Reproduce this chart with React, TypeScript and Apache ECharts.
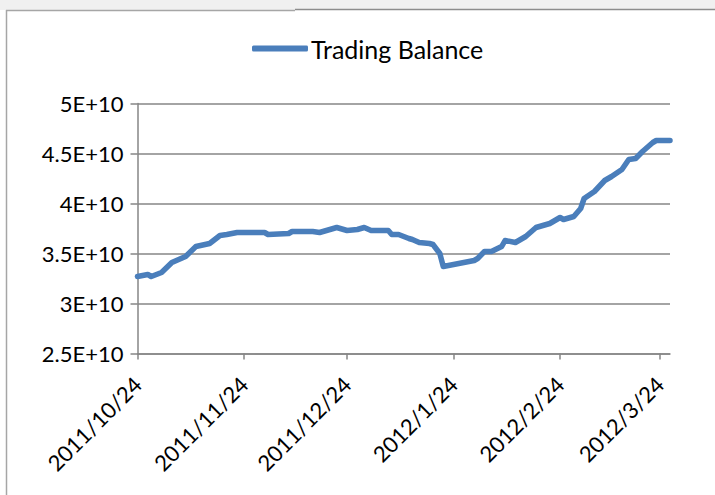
import React, { useEffect, useRef } from "react";
import * as echarts from "echarts";

const seriesName = "Trading Balance";

const dates = [
  "2011-10-24", "2011-10-27", "2011-10-28", "2011-10-31", "2011-11-03", "2011-11-07",
  "2011-11-10", "2011-11-14", "2011-11-17", "2011-11-19", "2011-11-22", "2011-11-24",
  "2011-11-30", "2011-12-01", "2011-12-07", "2011-12-08", "2011-12-14", "2011-12-16",
  "2011-12-21", "2011-12-24", "2011-12-27", "2011-12-29", "2011-12-31", "2012-01-05",
  "2012-01-06", "2012-01-08", "2012-01-11", "2012-01-12", "2012-01-14", "2012-01-17",
  "2012-01-18", "2012-01-20", "2012-01-21", "2012-01-30", "2012-01-31", "2012-02-02",
  "2012-02-04", "2012-02-07", "2012-02-08", "2012-02-11", "2012-02-14", "2012-02-17",
  "2012-02-21", "2012-02-24", "2012-02-25", "2012-02-28", "2012-03-01", "2012-03-02",
  "2012-03-05", "2012-03-08", "2012-03-10", "2012-03-13", "2012-03-15", "2012-03-17",
  "2012-03-19", "2012-03-22", "2012-03-23", "2012-03-27",
];

const balances = [
  3.27e10, 3.29e10, 3.27e10, 3.31e10, 3.41e10, 3.47e10,
  3.57e10, 3.6e10, 3.68e10, 3.69e10, 3.71e10, 3.71e10,
  3.71e10, 3.69e10, 3.7e10, 3.72e10, 3.72e10, 3.71e10,
  3.76e10, 3.73e10, 3.74e10, 3.76e10, 3.73e10, 3.73e10,
  3.69e10, 3.69e10, 3.65e10, 3.64e10, 3.61e10, 3.6e10,
  3.59e10, 3.5e10, 3.37e10, 3.43e10, 3.45e10, 3.52e10,
  3.52e10, 3.57e10, 3.63e10, 3.61e10, 3.67e10, 3.76e10,
  3.8e10, 3.86e10, 3.84e10, 3.87e10, 3.95e10, 4.05e10,
  4.12e10, 4.23e10, 4.27e10, 4.34e10, 4.44e10, 4.45e10,
  4.52e10, 4.61e10, 4.63e10, 4.63e10,
];

const xTickDates = ["2011-10-24", "2011-11-24", "2011-12-24", "2012-01-24", "2012-02-24", "2012-03-24"];
const xTickLabels = ["2011/10/24", "2011/11/24", "2011/12/24", "2012/1/24", "2012/2/24", "2012/3/24"];

const yTickValues = [2.5e10, 3e10, 3.5e10, 4e10, 4.5e10, 5e10];
const yTickLabels = ["2.5E+10", "3E+10", "3.5E+10", "4E+10", "4.5E+10", "5E+10"];

const toTime = (s: string) => {
  const [y, m, d] = s.split("-").map(Number);
  return Date.UTC(y, m - 1, d);
};

const FONT = "Lato";
const LINE_COLOR = "#4a7ebb";

export default function App() {
  const ref = useRef<HTMLDivElement>(null);
  useEffect(() => {
    document.body.style.margin = "0";
    const chart = echarts.init(ref.current!, undefined, { renderer: "svg" });
    const tickTimes = xTickDates.map(toTime);
    chart.setOption({
      animation: false,
      backgroundColor: "#ffffff",
      graphic: [
        { type: "rect", shape: { x: 0, y: 0, width: 715, height: 10 }, style: { fill: "#f0f0f0" }, silent: true },
        { type: "line", shape: { x1: 6, y1: 10.5, x2: 295, y2: 10.5 }, style: { stroke: "#a6a6a6", lineWidth: 1.5 }, silent: true },
        { type: "line", shape: { x1: 295, y1: 9.5, x2: 715, y2: 9.5 }, style: { stroke: "#8c8c8c", lineWidth: 1.5 }, silent: true },
        { type: "line", shape: { x1: 6.5, y1: 10, x2: 6.5, y2: 495 }, style: { stroke: "#a6a6a6", lineWidth: 1.5 }, silent: true },
      ],
      legend: {
        left: 247,
        top: 31,
        icon: "roundRect",
        itemWidth: 56,
        itemHeight: 6,
        itemStyle: { color: LINE_COLOR },
        textStyle: { fontFamily: FONT, fontSize: 25, color: "#000", padding: [0, 0, 0, -2] },
        data: [seriesName],
      },
      grid: { left: 137.5, right: 45, top: 103.5, bottom: 141.5, containLabel: false },
      xAxis: {
        type: "value",
        min: toTime(dates[0]),
        max: toTime(dates[dates.length - 1]),
        splitLine: { show: false },
        axisLine: { lineStyle: { color: "#868686", width: 1.5 } },
        axisTick: {
          show: true,
          length: 6,
          lineStyle: { color: "#868686", width: 1.5 },
          customValues: tickTimes,
        },
        axisLabel: {
          rotate: 45,
          margin: 27,
          fontFamily: FONT,
          fontSize: 22,
          color: "#000",
          customValues: tickTimes,
          formatter: (v: number) => {
            const i = tickTimes.findIndex((t) => Math.abs(t - v) < 1000);
            return i >= 0 ? xTickLabels[i] : "";
          },
        },
      },
      yAxis: {
        type: "value",
        min: 2.5e10,
        max: 5e10,
        interval: 0.5e10,
        axisLine: { show: true, lineStyle: { color: "#868686", width: 1.5 } },
        axisTick: { show: true, length: 7, lineStyle: { color: "#868686", width: 1.5 } },
        splitLine: { lineStyle: { color: "#868686", width: 1.5 } },
        axisLabel: {
          margin: 14,
          fontFamily: FONT,
          fontSize: 22,
          color: "#000",
          formatter: (v: number) => {
            const i = yTickValues.findIndex((t) => Math.abs(t - v) < 1);
            return i >= 0 ? yTickLabels[i] : "";
          },
        },
      },
      series: [
        {
          name: seriesName,
          type: "line",
          symbol: "none",
          data: dates.map((d, i) => [toTime(d), balances[i]]),
          lineStyle: { color: LINE_COLOR, width: 5.5, cap: "round", join: "round" },
          itemStyle: { color: LINE_COLOR },
        },
      ],
    });
    return () => chart.dispose();
  }, []);
  return <div ref={ref} style={{ width: 715, height: 495 }} />;
}
